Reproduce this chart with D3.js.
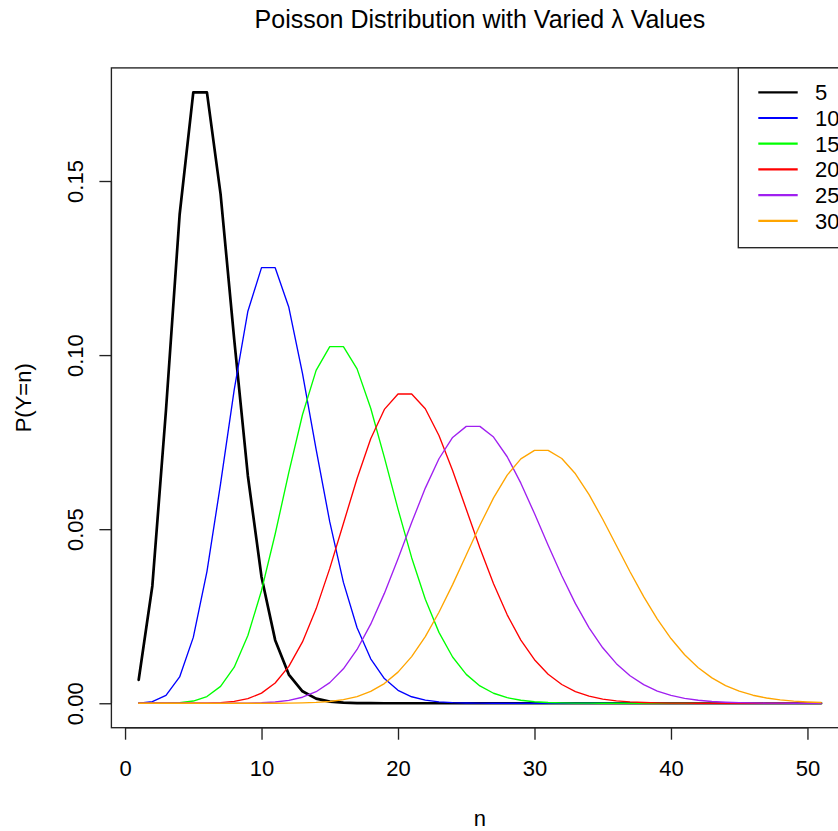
<!DOCTYPE html>
<html>
<head>
<meta charset="utf-8">
<script src="https://cdn.jsdelivr.net/npm/d3@7"></script>
<style>
  html, body { margin: 0; padding: 0; background: #fff; }
  svg text { font-family: "Liberation Sans", Arial, sans-serif; fill: #000; }
</style>
</head>
<body>
<svg id="chart" width="838" height="831"></svg>
<script>
// ---------- data ----------
const nValues = d3.range(1, 52); // n = 1..51
const lambdas = ["5", "10", "15", "20", "25", "30"];
const seriesColors = ["#000000", "#0000FF", "#00FF00", "#FF0000", "#A020F0", "#FFA500"];
const xTicks = [0, 10, 20, 30, 40, 50];
const yTicks = [0, 0.05, 0.10, 0.15];
const yTickLabels = ["0.00", "0.05", "0.10", "0.15"];

const lambda5 = [0.006738, 0.033690, 0.084224, 0.140374, 0.175467, 0.175467, 0.146223, 0.104445, 0.065278, 0.036266,
  0.018133, 0.008242, 0.003434, 0.001321, 0.000472, 0.000157, 0.000049, 0.000014, 0.000004, 0.000001,
  0, 0, 0, 0, 0, 0, 0, 0, 0, 0, 0, 0, 0, 0, 0, 0, 0, 0, 0, 0, 0, 0, 0, 0, 0, 0, 0, 0, 0, 0, 0];
const lambda10 = [0.000045, 0.000454, 0.002270, 0.007567, 0.018917, 0.037833, 0.063055, 0.090079, 0.112599, 0.125110,
  0.125110, 0.113736, 0.094780, 0.072908, 0.052077, 0.034718, 0.021699, 0.012764, 0.007091, 0.003732,
  0.001866, 0.000889, 0.000404, 0.000176, 0.000073, 0.000029, 0.000011, 0.000004, 0.000002, 0.000001,
  0, 0, 0, 0, 0, 0, 0, 0, 0, 0, 0, 0, 0, 0, 0, 0, 0, 0, 0, 0, 0];
const lambda15 = [0.0000003, 0.000005, 0.000034, 0.000172, 0.000645, 0.001936, 0.004839, 0.010370, 0.019444, 0.032407,
  0.048611, 0.066287, 0.082859, 0.095607, 0.102436, 0.102436, 0.096034, 0.084736, 0.070613, 0.055747,
  0.041810, 0.029865, 0.020362, 0.013280, 0.008300, 0.004980, 0.002873, 0.001596, 0.000855, 0.000442,
  0.000221, 0.000107, 0.000050, 0.000023, 0.000010, 0.000004, 0.000002, 0.000001,
  0, 0, 0, 0, 0, 0, 0, 0, 0, 0, 0, 0, 0];
const lambda20 = [0, 0, 0, 0.000003, 0.000014, 0.000055, 0.000183, 0.000523, 0.001309, 0.002908,
  0.005816, 0.010575, 0.017625, 0.027116, 0.038737, 0.051649, 0.064561, 0.075954, 0.084394, 0.088835,
  0.088835, 0.084605, 0.076914, 0.066881, 0.055735, 0.044588, 0.034298, 0.025406, 0.018147, 0.012515,
  0.008344, 0.005383, 0.003364, 0.002039, 0.001199, 0.000685, 0.000381, 0.000206, 0.000108, 0.000056,
  0.000028, 0.000014, 0.000006, 0.000003, 0.000001, 0, 0, 0, 0, 0, 0];
const lambda25 = [0, 0, 0, 0, 0, 0.000001, 0.000005, 0.000017, 0.000053, 0.000146,
  0.000365, 0.000830, 0.001730, 0.003320, 0.005930, 0.009890, 0.015450, 0.022720, 0.031560, 0.041530,
  0.051910, 0.061800, 0.070230, 0.076340, 0.079520, 0.079520, 0.076460, 0.070800, 0.063210, 0.054490,
  0.045410, 0.036620, 0.028610, 0.021670, 0.015940, 0.011380, 0.007910, 0.005340, 0.003510, 0.002250,
  0.001410, 0.000859, 0.000511, 0.000297, 0.000169, 0.000094, 0.000051, 0.000027, 0.000014, 0.000007, 0.000004];
const lambda30 = [0, 0, 0, 0, 0, 0, 0, 0, 0.0000015, 0.000005,
  0.000015, 0.000042, 0.000105, 0.000241, 0.000515, 0.001030, 0.001930, 0.003400, 0.005660, 0.008940,
  0.013410, 0.019160, 0.026130, 0.034080, 0.042600, 0.051110, 0.058980, 0.065530, 0.070210, 0.072630,
  0.072630, 0.070290, 0.065900, 0.059910, 0.052860, 0.045310, 0.037760, 0.030610, 0.024170, 0.018590,
  0.013940, 0.010200, 0.007290, 0.005080, 0.003470, 0.002310, 0.001510, 0.000963, 0.000602, 0.000369, 0.000221];

const seriesValues = [lambda5, lambda10, lambda15, lambda20, lambda25, lambda30];

// ---------- layout ----------
const svg = d3.select("#chart");
svg.append("rect").attr("width", 838).attr("height", 831).attr("fill", "#fff");

const plotLeft = 111.4, plotRight = 848.4, plotTop = 67.9, plotBottom = 727.7;
const FS = 22;

// R-style 4% extension of data range
const xMin = 1, xMax = 51, yMin = 0, yMax = d3.max(lambda5);
const xPad = (xMax - xMin) * 0.04, yPad = (yMax - yMin) * 0.04;
const x = d3.scaleLinear().domain([xMin - xPad, xMax + xPad]).range([plotLeft, plotRight]);
const y = d3.scaleLinear().domain([yMin - yPad, yMax + yPad]).range([plotBottom, plotTop]);

svg.append("defs").append("clipPath").attr("id", "plotclip")
  .append("rect").attr("x", plotLeft).attr("y", plotTop)
  .attr("width", plotRight - plotLeft).attr("height", plotBottom - plotTop);

// lines
const line = d3.line().x((d, i) => x(nValues[i])).y(d => y(d));
const gLines = svg.append("g").attr("clip-path", "url(#plotclip)");
seriesValues.forEach((vals, si) => {
  gLines.append("path")
    .datum(vals)
    .attr("d", line)
    .attr("fill", "none")
    .attr("stroke", seriesColors[si])
    .attr("stroke-width", si === 0 ? 2.7 : 1.35)
    .attr("stroke-linejoin", "round")
    .attr("stroke-linecap", "round");
});

// box
svg.append("rect")
  .attr("x", plotLeft).attr("y", plotTop)
  .attr("width", plotRight - plotLeft).attr("height", plotBottom - plotTop)
  .attr("fill", "none").attr("stroke", "#222").attr("stroke-width", 1.35);

// x axis
const gx = svg.append("g").attr("transform", `translate(0,${plotBottom})`)
  .call(d3.axisBottom(x).tickValues(xTicks).tickFormat(d3.format("d")).tickSize(12).tickSizeOuter(0));
gx.select(".domain").remove();
gx.append("line").attr("x1", x(xTicks[0])).attr("x2", x(xTicks[xTicks.length - 1]))
  .attr("y1", 0).attr("y2", 0).attr("stroke", "#222").attr("stroke-width", 1.35);
gx.selectAll(".tick line").attr("stroke", "#222").attr("stroke-width", 1.35);
gx.selectAll(".tick text").attr("y", 48).attr("dy", null)
  .style("font-size", FS + "px").style("font-family", '"Liberation Sans", Arial, sans-serif').attr("fill", "#000");

// y axis
const gy = svg.append("g").attr("transform", `translate(${plotLeft},0)`)
  .call(d3.axisLeft(y).tickValues(yTicks).tickFormat((d, i) => yTickLabels[i]).tickSize(12).tickSizeOuter(0));
gy.select(".domain").remove();
gy.append("line").attr("x1", 0).attr("x2", 0)
  .attr("y1", y(yTicks[0])).attr("y2", y(yTicks[yTicks.length - 1]))
  .attr("stroke", "#222").attr("stroke-width", 1.35);
gy.selectAll(".tick line").attr("stroke", "#222").attr("stroke-width", 1.35);
gy.selectAll(".tick text")
  .attr("x", null).attr("dy", null)
  .attr("text-anchor", "middle")
  .attr("transform", "translate(-28,0) rotate(-90)")
  .attr("y", 0)
  .style("font-size", FS + "px").style("font-family", '"Liberation Sans", Arial, sans-serif').attr("fill", "#000");

// axis titles
svg.append("text").attr("x", (plotLeft + plotRight) / 2).attr("y", 826)
  .attr("text-anchor", "middle").style("font-size", FS + "px").text("n");
svg.append("text")
  .attr("transform", `translate(31,${(plotTop + plotBottom) / 2}) rotate(-90)`)
  .attr("text-anchor", "middle").style("font-size", FS + "px").text("P(Y=n)");

// title
svg.append("text").attr("x", (plotLeft + plotRight) / 2).attr("y", 28)
  .attr("text-anchor", "middle").style("font-size", "25px").text("Poisson Distribution with Varied λ Values");

// legend
const legLeft = 738.3, legTop = plotTop, legBottom = 247.7;
svg.append("rect").attr("x", legLeft).attr("y", legTop)
  .attr("width", plotRight - legLeft).attr("height", legBottom - legTop)
  .attr("fill", "#fff").attr("stroke", "#222").attr("stroke-width", 1.35);
lambdas.forEach((lab, i) => {
  const ry = 92.3 + i * 25.7;
  svg.append("line").attr("x1", 758.3).attr("x2", 797.7).attr("y1", ry).attr("y2", ry)
    .attr("stroke", seriesColors[i]).attr("stroke-width", 2.2);
  svg.append("text").attr("x", 815).attr("y", ry).attr("dy", "0.36em")
    .style("font-size", FS + "px").text(lab);
});
</script>
</body>
</html>
